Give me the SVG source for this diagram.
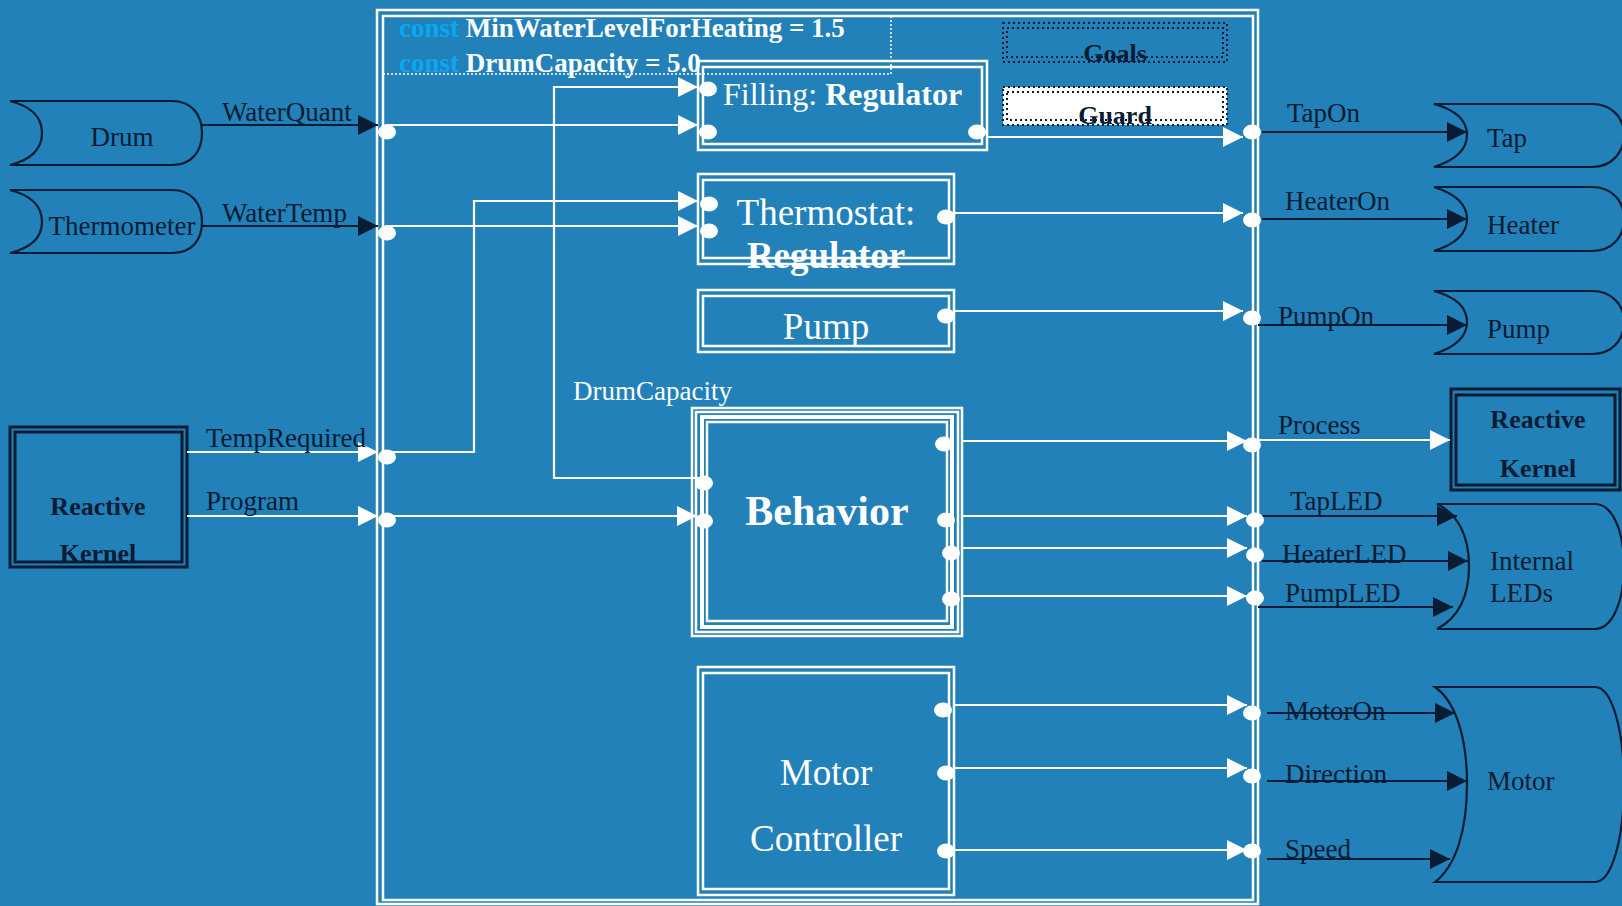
<svg xmlns="http://www.w3.org/2000/svg" width="1622" height="906" viewBox="0 0 1622 906">
<style>
.bg{fill:#2281B8}
.wbox{fill:none;stroke:#fff;stroke-width:2.5}
.dbox{fill:none;stroke:#0A1C33;stroke-width:3}
.wl{fill:none;stroke:#fff;stroke-width:2.2}
.dl{fill:none;stroke:#0A1C33;stroke-width:2.2}
.shape{fill:none;stroke:#0A1C33;stroke-width:2.2}
.port{fill:#fff}
.t{font-family:"Liberation Serif","Times New Roman",serif}
.dt{fill:#0A1C33;font-size:27px}
.wt{fill:#fff}
.big{font-size:37px}
.b{font-weight:bold}
.s26{font-size:26px}
.dot{fill:none;stroke:#0A1C33;stroke-width:2;stroke-dasharray:2 3}
.wdot{fill:none;stroke:#fff;stroke-width:1.5;stroke-dasharray:2 2}
.const{fill:#0AA8F2}
</style>
<defs>
<marker id="aw" markerUnits="userSpaceOnUse" markerWidth="20" markerHeight="20" refX="20" refY="10" orient="auto"><path d="M0,0 L20,10 L0,20 Z" fill="#fff"/></marker>
<marker id="ad" markerUnits="userSpaceOnUse" markerWidth="20" markerHeight="20" refX="20" refY="10" orient="auto"><path d="M0,0 L20,10 L0,20 Z" fill="#0A1C33"/></marker>
</defs>
<rect class="bg" x="0" y="0" width="1622" height="906"/>

<g id="system">
<rect class="wbox" x="377" y="10" width="881" height="894"/>
<rect class="wbox" x="383" y="16" width="870" height="884"/>
<path class="wdot" d="M383,74 H891 V16"/>
<text class="t b" x="399" y="37" font-size="27"><tspan class="const">const </tspan><tspan class="wt">MinWaterLevelForHeating = 1.5</tspan></text>
<text class="t b" x="399" y="72" font-size="27"><tspan class="const">const </tspan><tspan class="wt">DrumCapacity = 5.0</tspan></text>
</g>

<g id="goals">
<rect class="dot" x="1003" y="23" width="224" height="39"/>
<rect class="dot" x="1007" y="28" width="216" height="29"/>
<text class="t dt b s26" x="1115" y="62" text-anchor="middle">Goals</text>
</g>
<g id="guard">
<rect x="1003" y="87" width="224" height="38" fill="#fff"/>
<rect class="dot" x="1003" y="87" width="224" height="38"/>
<rect class="dot" x="1007" y="92" width="216" height="28"/>
<text class="t dt b s26" x="1115" y="124" text-anchor="middle">Guard</text>
</g>

<g id="drum">
<path class="shape" d="M10,101 H172 C192,101 202,115 202,133 C202,151 192,165 172,165 H10 C30,160 42,150 42,133 C42,116 30,106 10,101 Z"/>
<text class="t dt" x="122" y="146" text-anchor="middle">Drum</text>
</g>
<g id="thermometer">
<path class="shape" d="M10,190 H172 C192,190 202,204 202,222 C202,240 192,253 172,253 H10 C30,248 42,238 42,222 C42,205 30,195 10,190 Z"/>
<text class="t dt" x="122" y="235" text-anchor="middle">Thermometer</text>
</g>
<g id="reactive-kernel-left">
<rect class="dbox" x="10" y="427" width="177" height="140"/>
<rect class="dbox" x="15" y="432" width="167" height="130"/>
<text class="t dt b s26" x="98" y="515" text-anchor="middle">Reactive</text>
<text class="t dt b s26" x="98" y="562" text-anchor="middle">Kernel</text>
</g>

<g id="filling">
<rect class="wbox" x="698" y="61" width="289" height="89"/>
<rect class="wbox" x="703" y="67" width="279" height="77"/>
<text class="t wt" x="723" y="105" font-size="32">Filling: <tspan class="b">Regulator</tspan></text>
</g>
<g id="thermostat">
<rect class="wbox" x="698" y="174" width="256" height="90"/>
<rect class="wbox" x="703" y="180" width="246" height="78"/>
<text class="t wt big" x="826" y="225" text-anchor="middle">Thermostat:</text>
<text class="t wt big b" x="826" y="268" text-anchor="middle">Regulator</text>
</g>
<g id="pump-block">
<rect class="wbox" x="698" y="290" width="256" height="62"/>
<rect class="wbox" x="703" y="296" width="246" height="50"/>
<text class="t wt big" x="826" y="339" text-anchor="middle">Pump</text>
</g>
<g id="behavior">
<rect class="wbox" x="692" y="408" width="270" height="228"/>
<rect class="wbox" x="696" y="412" width="262" height="220"/>
<rect fill="none" stroke="#fff" stroke-width="4" x="702" y="417" width="250" height="210"/>
<rect class="wbox" x="707" y="422" width="240" height="199"/>
<text class="t wt b" x="827" y="525" text-anchor="middle" font-size="42">Behavior</text>
</g>
<g id="motor-controller">
<rect class="wbox" x="698" y="667" width="256" height="228"/>
<rect class="wbox" x="703" y="673" width="246" height="216"/>
<text class="t wt big" x="826" y="785" text-anchor="middle">Motor</text>
<text class="t wt big" x="826" y="851" text-anchor="middle">Controller</text>
</g>

<g id="tap">
<path class="shape" d="M1434,104 H1592 C1612,104 1624,118 1624,135 C1624,152 1612,167 1592,167 H1434 C1456,160 1467,150 1467,135 C1467,120 1456,110 1434,104 Z"/>
<text class="t dt" x="1487" y="147">Tap</text>
</g>
<g id="heater">
<path class="shape" d="M1434,187 H1592 C1612,187 1624,201 1624,219 C1624,237 1612,251 1592,251 H1434 C1456,244 1467,234 1467,219 C1467,204 1456,194 1434,187 Z"/>
<text class="t dt" x="1487" y="234">Heater</text>
</g>
<g id="pump">
<path class="shape" d="M1434,291 H1592 C1612,291 1624,305 1624,322 C1624,340 1612,354 1592,354 H1434 C1456,347 1467,337 1467,322 C1467,307 1456,297 1434,291 Z"/>
<text class="t dt" x="1487" y="338">Pump</text>
</g>
<g id="reactive-kernel-right">
<rect class="dbox" x="1451" y="389" width="169" height="101"/>
<rect class="dbox" x="1456" y="395" width="159" height="90"/>
<text class="t dt b s26" x="1538" y="428" text-anchor="middle">Reactive</text>
<text class="t dt b s26" x="1538" y="477" text-anchor="middle">Kernel</text>
</g>
<g id="internal-leds">
<path class="shape" d="M1437,504 H1595 C1612,504 1624,530 1624,566 C1624,602 1612,629 1595,629 H1437 C1458,618 1469,596 1469,566 C1469,536 1458,514 1437,504 Z"/>
<text class="t dt" x="1490" y="570">Internal</text>
<text class="t dt" x="1490" y="602">LEDs</text>
</g>
<g id="motor">
<path class="shape" d="M1435,687 H1595 C1612,687 1624,730 1624,784 C1624,838 1612,882 1595,882 H1435 C1456,866 1467,830 1467,784 C1467,738 1456,702 1435,687 Z"/>
<text class="t dt" x="1487" y="790">Motor</text>
</g>

<g id="connectors">
<path class="dl" d="M202,125 H378" marker-end="url(#ad)"/>
<path class="dl" d="M202,226 H378" marker-end="url(#ad)"/>
<path class="wl" d="M187,452 H378" marker-end="url(#aw)"/>
<path class="wl" d="M187,516 H378" marker-end="url(#aw)"/>
<path class="wl" d="M385,125 H698" marker-end="url(#aw)"/>
<path class="wl" d="M385,226 H698" marker-end="url(#aw)"/>
<path class="wl" d="M385,452 H474 V201 H698" marker-end="url(#aw)"/>
<path class="wl" d="M385,516 H697" marker-end="url(#aw)"/>
<path class="wl" d="M703,478 H554 V87 H698" marker-end="url(#aw)"/>
<path class="wl" d="M987,137 H1243" marker-end="url(#aw)"/>
<path class="wl" d="M955,213 H1243" marker-end="url(#aw)"/>
<path class="wl" d="M955,311 H1243" marker-end="url(#aw)"/>
<path class="wl" d="M962,441 H1247" marker-end="url(#aw)"/>
<path class="wl" d="M962,516 H1247" marker-end="url(#aw)"/>
<path class="wl" d="M962,548 H1247" marker-end="url(#aw)"/>
<path class="wl" d="M962,596 H1247" marker-end="url(#aw)"/>
<path class="wl" d="M955,705 H1247" marker-end="url(#aw)"/>
<path class="wl" d="M955,768 H1247" marker-end="url(#aw)"/>
<path class="wl" d="M955,850 H1247" marker-end="url(#aw)"/>
<path class="dl" d="M1262,132 H1467" marker-end="url(#ad)"/>
<path class="dl" d="M1262,219 H1467" marker-end="url(#ad)"/>
<path class="dl" d="M1258,325 H1467" marker-end="url(#ad)"/>
<path class="wl" d="M1258,440 H1450" marker-end="url(#aw)"/>
<path class="dl" d="M1262,516 H1457" marker-end="url(#ad)"/>
<path class="dl" d="M1262,561 H1468" marker-end="url(#ad)"/>
<path class="dl" d="M1258,607 H1453" marker-end="url(#ad)"/>
<path class="dl" d="M1267,713 H1455" marker-end="url(#ad)"/>
<path class="dl" d="M1267,781 H1467" marker-end="url(#ad)"/>
<path class="dl" d="M1267,859 H1450" marker-end="url(#ad)"/>
<g class="port">
<ellipse cx="387" cy="132" rx="9" ry="7.5"/>
<ellipse cx="387" cy="233" rx="9" ry="7.5"/>
<ellipse cx="387" cy="457" rx="9" ry="7.5"/>
<ellipse cx="387" cy="520" rx="9" ry="7.5"/>
<ellipse cx="708" cy="89" rx="9" ry="7.5"/>
<ellipse cx="708" cy="132" rx="9" ry="7.5"/>
<ellipse cx="977" cy="132" rx="9" ry="7.5"/>
<ellipse cx="709" cy="204" rx="9" ry="7.5"/>
<ellipse cx="709" cy="231" rx="9" ry="7.5"/>
<ellipse cx="946" cy="217" rx="9" ry="7.5"/>
<ellipse cx="946" cy="316" rx="9" ry="7.5"/>
<ellipse cx="704" cy="483" rx="9" ry="7.5"/>
<ellipse cx="704" cy="521" rx="9" ry="7.5"/>
<ellipse cx="944" cy="444" rx="9" ry="7.5"/>
<ellipse cx="946" cy="520" rx="9" ry="7.5"/>
<ellipse cx="951" cy="553" rx="9" ry="7.5"/>
<ellipse cx="951" cy="599" rx="9" ry="7.5"/>
<ellipse cx="943" cy="710" rx="9" ry="7.5"/>
<ellipse cx="946" cy="773" rx="9" ry="7.5"/>
<ellipse cx="946" cy="851" rx="9" ry="7.5"/>
<ellipse cx="1252" cy="132" rx="9" ry="7.5"/>
<ellipse cx="1252" cy="220" rx="9" ry="7.5"/>
<ellipse cx="1252" cy="318" rx="9" ry="7.5"/>
<ellipse cx="1252" cy="445" rx="9" ry="7.5"/>
<ellipse cx="1255" cy="520" rx="9" ry="7.5"/>
<ellipse cx="1255" cy="555" rx="9" ry="7.5"/>
<ellipse cx="1255" cy="598" rx="9" ry="7.5"/>
<ellipse cx="1252" cy="713" rx="9" ry="7.5"/>
<ellipse cx="1252" cy="776" rx="9" ry="7.5"/>
<ellipse cx="1252" cy="851" rx="9" ry="7.5"/>
</g>
<g class="t dt">
<text x="222" y="121">WaterQuant</text>
<text x="222" y="222">WaterTemp</text>
<text x="206" y="447">TempRequired</text>
<text x="206" y="510">Program</text>
<text x="1287" y="122">TapOn</text>
<text x="1285" y="210">HeaterOn</text>
<text x="1278" y="325">PumpOn</text>
<text x="1278" y="434">Process</text>
<text x="1290" y="510">TapLED</text>
<text x="1282" y="563">HeaterLED</text>
<text x="1285" y="602">PumpLED</text>
<text x="1285" y="720">MotorOn</text>
<text x="1285" y="783">Direction</text>
<text x="1285" y="858">Speed</text>
</g>
<text class="t wt" x="573" y="400" font-size="27">DrumCapacity</text>
</g>
</svg>
